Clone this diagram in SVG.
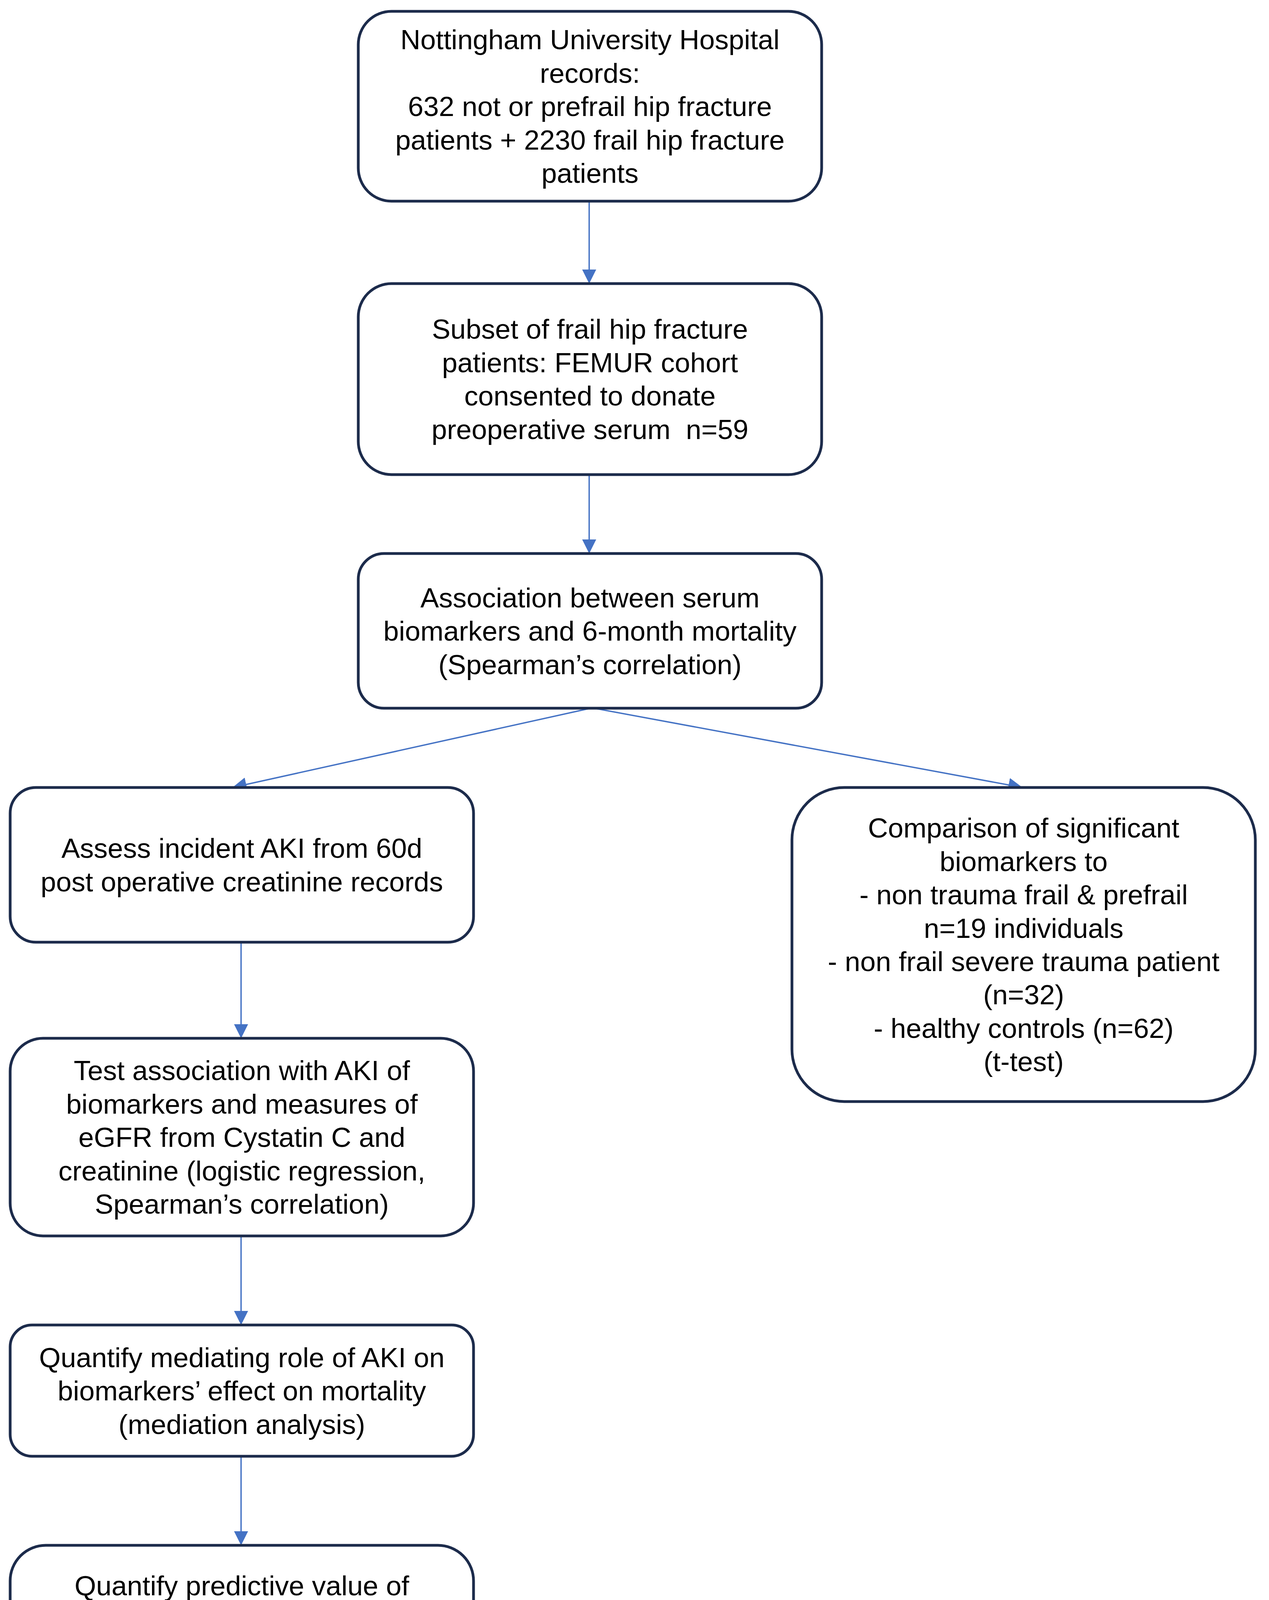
<svg xmlns="http://www.w3.org/2000/svg" width="3248" height="4543" viewBox="0 0 3248 4543">
<style>
.box{fill:#ffffff;stroke:#1c2b4b;stroke-width:7}
.lbl{font-family:"Liberation Sans",Arial,sans-serif;font-size:71px;fill:#000000;text-anchor:middle;white-space:pre}
.conn{stroke:#4472c4;stroke-width:3.5;fill:none;marker-end:url(#ah)}
</style>
<defs>
<marker id="ah" markerUnits="userSpaceOnUse" markerWidth="36" markerHeight="36" refX="36" refY="18" orient="auto" viewBox="0 0 36 36">
<path d="M0,0 L36,18 L0,36 z" fill="#4472c4"/>
</marker>
</defs>
<rect width="3248" height="4543" fill="#ffffff"/>
<g id="connectors">
<line class="conn" x1="1508" y1="515" x2="1508" y2="726"/>
<line class="conn" x1="1508" y1="1215" x2="1508" y2="1417"/>
<line class="conn" x1="1512" y1="1813" x2="595" y2="2016"/>
<line class="conn" x1="1520" y1="1813" x2="2617" y2="2016"/>
<line class="conn" x1="617" y1="2412" x2="617" y2="2658"/>
<line class="conn" x1="617" y1="3164" x2="617" y2="3392"/>
<line class="conn" x1="617" y1="3728" x2="617" y2="3956"/>
</g>
<g id="n1">
<rect class="box" x="917" y="29" width="1186" height="486" rx="85" ry="85"/>
<text class="lbl"><tspan x="1510" y="126">Nottingham University Hospital</tspan><tspan x="1510" y="211.5">records:</tspan><tspan x="1510" y="297">632 not or prefrail hip fracture</tspan><tspan x="1510" y="382.5">patients + 2230 frail hip fracture</tspan><tspan x="1510" y="468">patients</tspan></text>
</g>
<g id="n2">
<rect class="box" x="917" y="726" width="1186" height="489" rx="85" ry="85"/>
<text class="lbl"><tspan x="1510" y="867">Subset of frail hip fracture</tspan><tspan x="1510" y="953">patients: FEMUR cohort</tspan><tspan x="1510" y="1038">consented to donate</tspan><tspan x="1510" y="1124">preoperative serum  n=59</tspan></text>
</g>
<g id="n3">
<rect class="box" x="917" y="1417" width="1186" height="396" rx="66" ry="66"/>
<text class="lbl"><tspan x="1510" y="1555">Association between serum</tspan><tspan x="1510" y="1640">biomarkers and 6-month mortality</tspan><tspan x="1510" y="1726">(Spearman’s correlation)</tspan></text>
</g>
<g id="n4">
<rect class="box" x="26" y="2016" width="1186" height="396" rx="66" ry="66"/>
<text class="lbl"><tspan x="619" y="2196">Assess incident AKI from 60d</tspan><tspan x="619" y="2282">post operative creatinine records</tspan></text>
</g>
<g id="n5">
<rect class="box" x="2027" y="2016" width="1186" height="804" rx="134" ry="134"/>
<text class="lbl"><tspan x="2620" y="2144">Comparison of significant</tspan><tspan x="2620" y="2229.5">biomarkers to</tspan><tspan x="2620" y="2315">- non trauma frail &amp; prefrail</tspan><tspan x="2620" y="2400.5">n=19 individuals</tspan><tspan x="2620" y="2486">- non frail severe trauma patient</tspan><tspan x="2620" y="2571">(n=32)</tspan><tspan x="2620" y="2657">- healthy controls (n=62)</tspan><tspan x="2620" y="2742">(t-test)</tspan></text>
</g>
<g id="n6">
<rect class="box" x="26" y="2658" width="1186" height="506" rx="84" ry="84"/>
<text class="lbl"><tspan x="619" y="2765">Test association with AKI of</tspan><tspan x="619" y="2850.5">biomarkers and measures of</tspan><tspan x="619" y="2936">eGFR from Cystatin C and</tspan><tspan x="619" y="3021.5">creatinine (logistic regression,</tspan><tspan x="619" y="3107">Spearman’s correlation)</tspan></text>
</g>
<g id="n7">
<rect class="box" x="26" y="3392" width="1186" height="336" rx="56" ry="56"/>
<text class="lbl"><tspan x="619" y="3500">Quantify mediating role of AKI on</tspan><tspan x="619" y="3585">biomarkers’ effect on mortality</tspan><tspan x="619" y="3671">(mediation analysis)</tspan></text>
</g>
<g id="n8">
<rect class="box" x="26" y="3956" width="1186" height="547" rx="91" ry="91"/>
<text class="lbl"><tspan x="619" y="4084">Quantify predictive value of</tspan><tspan x="619" y="4169">biomarkers and eGFR-CysC on</tspan><tspan x="619" y="4255">incident AKI and 6-month</tspan><tspan x="619" y="4340">postoperative mortality (ROC</tspan><tspan x="619" y="4426">curve analysis)</tspan></text>
</g>
</svg>
